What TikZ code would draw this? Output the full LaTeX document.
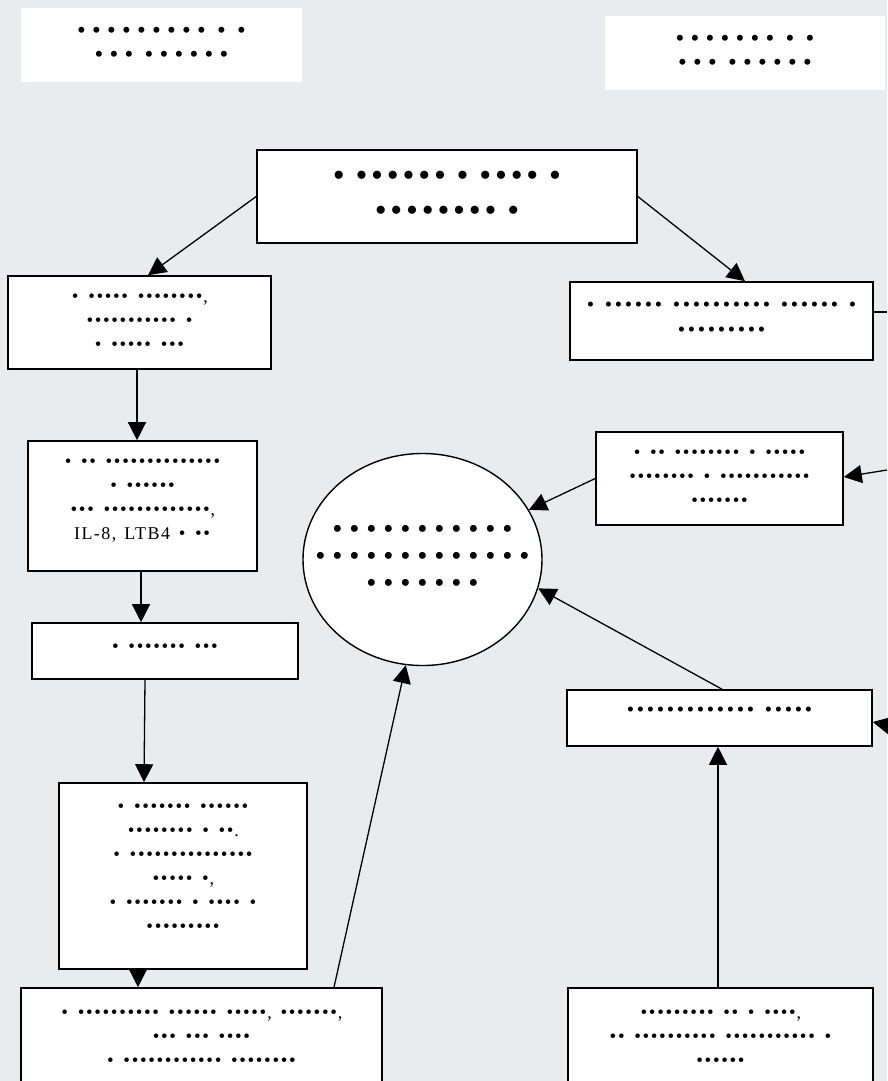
\documentclass[tikz,border=0pt]{standalone}
\usepackage{fontspec}
\setmainfont{Liberation Serif}
\usepackage{newunicodechar}
\usetikzlibrary{arrows.meta,shapes.geometric,calc}
\definecolor{bg}{HTML}{E9ECEE}
\newlength\bw
\setlength\bw{8pt}
\newcommand\bsz{14}
\newunicodechar{•}{\makebox[\bw]{\fontsize{\bsz}{\bsz}\selectfont\symbol{"2022}}}
\newcommand\zerobox[1]{\makebox[0pt]{\raisebox{-5pt}[0pt][0pt]{\begin{tabular}{@{}c@{}}#1\end{tabular}}}}
\tikzset{
  bx/.style={draw, line width=1.6pt, fill=white, align=center, inner sep=0pt},
  sm/.style={font={\fontsize{18}{24}\selectfont\setlength\bw{8.3pt}\renewcommand\bsz{19}\spaceskip=8pt\relax}},
  md/.style={font={\fontsize{18}{25}\selectfont\setlength\bw{10pt}\renewcommand\bsz{21}\spaceskip=8pt\relax}},
  lg/.style={font={\fontsize{18}{24}\selectfont\setlength\bw{15pt}\renewcommand\bsz{25}\spaceskip=5pt\relax}},
  tp/.style={font={\fontsize{18}{35}\selectfont\setlength\bw{15.7pt}\renewcommand\bsz{34}\spaceskip=7pt\relax}},
  cr/.style={font={\fontsize{18}{27}\selectfont\setlength\bw{17pt}\renewcommand\bsz{29}\spaceskip=5pt\relax}},
  arr/.style={line width=1.3pt, -{Triangle[length=18pt,width=18pt]}},
  ln/.style={line width=1.3pt},
}
\begin{document}
\begin{tikzpicture}[x=1pt,y=-1pt]
\fill[bg] (0,0) rectangle (887,1081);
\useasboundingbox (0,0) rectangle (887,1081);

\node[bx, draw=none, lg, minimum width=281pt, minimum height=74pt] (tl) at (161.5,45)
  {••••••••• • •\\••• ••••••};
\node[bx, draw=none, lg, minimum width=280pt, minimum height=74pt] (tr) at (745,53)
  {••••••• • •\\••• ••••••};
\node[bx, tp, minimum width=380pt, minimum height=93pt] (top) at (447,196.5)
  {• •••••• • •••• •\\•••••••• •};
\node[bx, sm, minimum width=263pt, minimum height=93pt] (L1) at (139.5,322.5)
  {• ••••• ••••••••,\\••••••••••• •\\• ••••• •••};
\node[bx, md, minimum width=303pt, minimum height=78pt] (R1) at (721.5,321)
  {• •••••• •••••••••• •••••• •\\•••••••••\\[-22pt]\mbox{}};
\node[bx, sm, minimum width=229pt, minimum height=130pt] (L2) at (142.5,506)
  {• •• ••••••••••••••\\• ••••••\\••• •••••••••••••,\\{\addfontfeature{LetterSpace=8}IL-8, LTB4} • ••\\[-10pt]\mbox{}};
\node[bx, sm, minimum width=247pt, minimum height=93pt] (R2) at (719.5,478.5)
  {• •• •••••••• • •••••\\•••••••• • •••••••••••\\•••••••};
\node[ellipse, draw, line width=1.4pt, fill=white, inner sep=0pt, cr,
  minimum width=239pt, minimum height=212pt] (C) at (422.5,559.5)
  {\zerobox{•••••••••••\\•••••••••••••\\•••••••}};
\node[bx, sm, minimum width=266pt, minimum height=56pt] (L3) at (165,651)
  {• ••••••• •••\\[-18pt]\mbox{}};
\node[bx, md, minimum width=305pt, minimum height=56pt] (R3) at (719.5,718)
  {••••••••••••• •••••\\[-12pt]\mbox{}};
\node[bx, sm, minimum width=248pt, minimum height=186pt] (L4) at (183,876)
  {• ••••••• ••••••\\•••••••• • ••.\\• •••••••••••••••\\••••• •,\\• ••••••• • •••• •\\•••••••••\\[-8pt]\mbox{}};
\node[bx, sm, minimum width=361pt, minimum height=100pt] (L5) at (201.5,1038)
  {• •••••••••• •••••• •••••, •••••••,\\••• ••• ••••\\• •••••••••••• ••••••••};
\node[bx, sm, minimum width=305pt, minimum height=100pt] (R4) at (720.5,1038)
  {••••••••• •• • ••••,\\•• •••••••••• ••••••••••• •\\••••••};

\coordinate (e1) at (887,312);
\coordinate (e2) at (887,470);
\coordinate (e3) at (887,725);

\draw[arr] (top.west) -- ([xshift=8.5pt]L1.north);
\draw[arr] (top.east) -- ([xshift=23.5pt]R1.north);
\draw[arr] ([xshift=-2.5pt]L1.south) -- ([xshift=-5.5pt]L2.north);
\draw[arr] ([xshift=-1.5pt]L2.south) -- ([xshift=-24pt]L3.north);
\draw[arr] ([xshift=-20pt]L3.south) -- ([xshift=-39pt]L4.north);
\draw[arr] ([xshift=-45pt]L4.south) -- ([xshift=-63.5pt]L5.north);
\draw[arr] ([xshift=132.5pt]L5.north) -- (C.-99);
\draw[arr] (R2.west) -- (C.25);
\draw[arr] ([xshift=2.5pt]R3.north) -- (C.-14);
\draw[arr] ([xshift=-2.5pt]R4.north) -- ([xshift=-1.5pt]R3.south);
\draw[ln] ([yshift=9pt]R1.east) -- (e1);
\draw[arr] (e2) -- ([yshift=1.5pt]R2.east);
\draw[arr] (e3) -- ([yshift=-4pt]R3.east);
\end{tikzpicture}
\end{document}
